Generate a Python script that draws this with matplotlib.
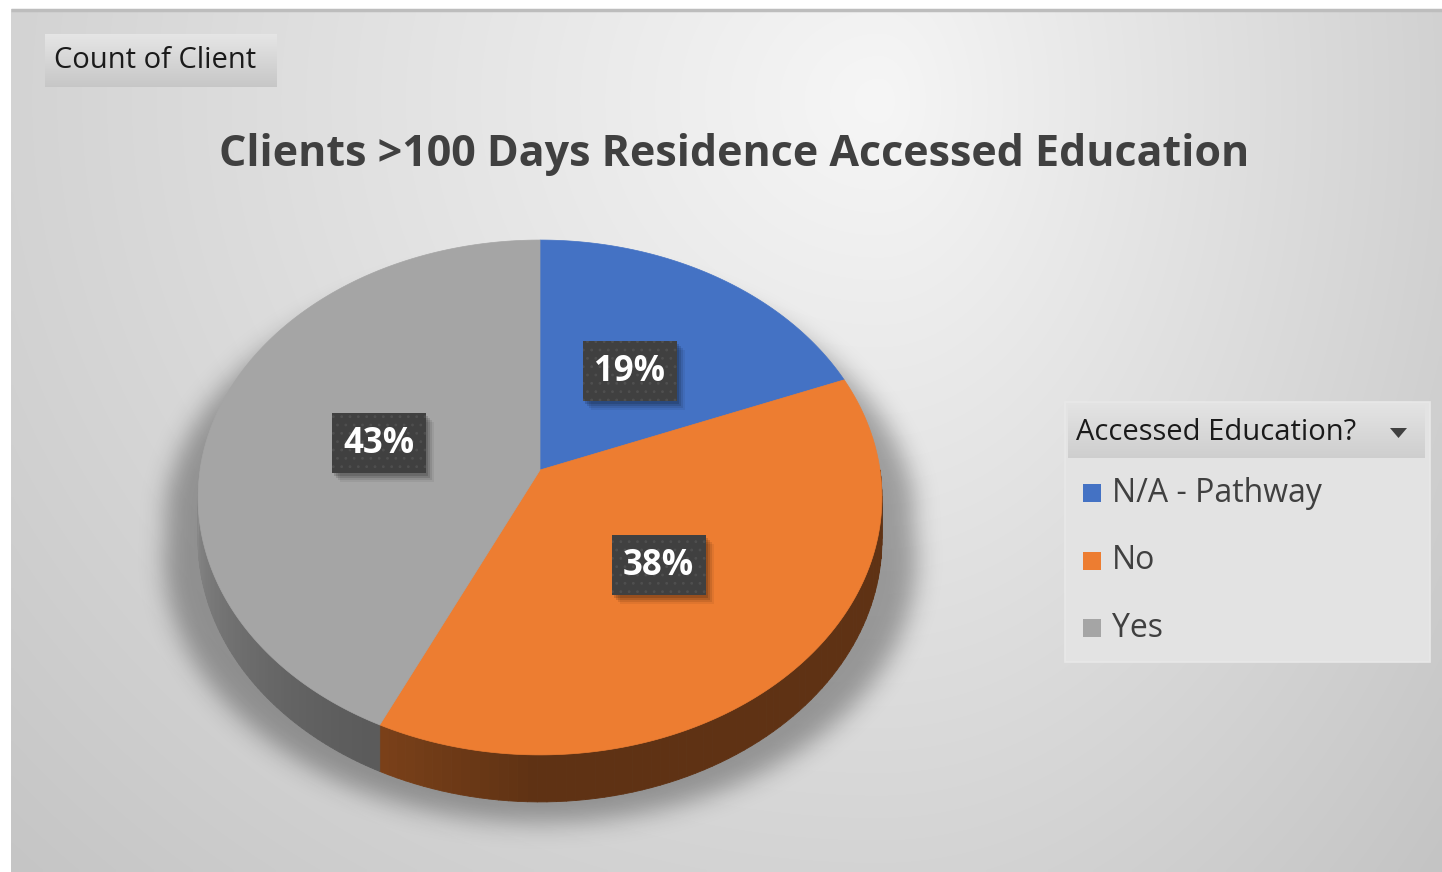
import numpy as np
import matplotlib
matplotlib.use('Agg')
import matplotlib.pyplot as plt
from matplotlib.patches import Polygon, Rectangle
from matplotlib.collections import PolyCollection
from matplotlib.path import Path

# data
categories = ['N/A - Pathway', 'No', 'Yes']
shares = [19, 38, 43]
colors = ['#4472C4', '#ED7D31', '#A5A5A5']
title = 'Clients >100 Days Residence Accessed Education'
field_button = 'Count of Client'
legend_title = 'Accessed Education?'

FONT = 'Open Sans'
W, H = 1442, 872

# pie geometry (pixels)
CX, CY = 540, 470
RX, K, D = 340, 254.5, 9.37
THICK = 42


def project(theta, r=1.0, drop=0.0):
    x = r * np.cos(theta)
    z = r * np.sin(theta)
    s = D / (D + z)
    return CX + RX * x * s, CY - K * z * s + drop * s


def blur(a, sigma):
    n = int(3 * sigma)
    k = np.exp(-0.5 * (np.arange(-n, n + 1) / sigma) ** 2)
    k /= k.sum()
    a = np.apply_along_axis(lambda r: np.convolve(r, k, mode='same'), 0, a)
    a = np.apply_along_axis(lambda r: np.convolve(r, k, mode='same'), 1, a)
    return a


fig = plt.figure(figsize=(W / 100, H / 100), dpi=100)
fig.patch.set_facecolor('white')
ax = fig.add_axes([0, 0, 1, 1])
ax.axis('off')

# ---- background gradient
gx, gy = np.meshgrid(np.linspace(11, W, 300), np.linspace(10, H, 200))
sx = np.where(gx < 880, 1000, 620)
d = np.sqrt(((gx - 880) / sx) ** 2 + ((gy - 100) / 900) ** 2)
v = np.clip(246 - 40 * d, 0, 255) / 255
bg = np.dstack([v, v, v])
ax.imshow(bg, extent=(11, W, H, 10), origin='upper', interpolation='bilinear', aspect='auto', zorder=0)
ax.plot([11, W], [10.5, 10.5], color='#bdbdbd', lw=2.5, zorder=1, solid_capstyle='butt')

# ---- soft shadow under the pie
t_back = np.linspace(0, np.pi, 120)
t_front = np.linspace(np.pi, 2 * np.pi, 120)
bx1, by1 = project(t_back, 1.0, 30)
bx2, by2 = project(t_front, 1.0, THICK + 18)
sx_ = CX + (np.r_[bx1, bx2] - CX) * 1.1
shadow_path = Path(np.column_stack([sx_, np.r_[by1, by2]]))
sxg, syg = np.meshgrid(np.arange(100, 1000), np.arange(250, H))
mask = shadow_path.contains_points(np.column_stack([sxg.ravel(), syg.ravel()])).reshape(sxg.shape)
alpha = blur(mask.astype(float), 12) * 0.32
sh = np.zeros(mask.shape + (4,))
sh[..., 3] = alpha
ax.imshow(sh, extent=(100, 1000, H, 250), origin='upper', aspect='auto', zorder=2)

# ---- slices
total = float(sum(shares))
bounds = [90.0]
for v_ in shares:
    bounds.append(bounds[-1] - 360.0 * v_ / total)

wall_shade = {0: (0.55, 0.45), 1: (0.52, 0.40), 2: (0.55, 0.86)}

for i, col in enumerate(colors):
    a0, a1 = bounds[i], bounds[i + 1]
    # side wall (front half only)
    lo, hi = max(a1, -180.0), min(a0, 0.0)
    if lo < hi:
        th = np.radians(np.linspace(hi, lo, 80))
        rgb = np.array(matplotlib.colors.to_rgb(col))
        f0, f1 = wall_shade[i]
        quads, fcs = [], []
        for j in range(len(th) - 1):
            xa, ya = project(th[j])
            xb, yb = project(th[j + 1])
            xc, yc = project(th[j + 1], drop=THICK)
            xd, yd = project(th[j], drop=THICK)
            quads.append([(xa, ya), (xb, yb), (xc, yc), (xd, yd)])
            frac = np.clip((np.degrees(th[j]) - hi) / (lo - hi), 0, 1)
            if i == 1:
                f = f1 + (f0 - f1) * np.clip((frac - 0.78) / 0.22, 0, 1)
            else:
                f = f0 + (f1 - f0) * frac ** 1.3
            fcs.append(np.clip(rgb * f, 0, 1))
        ax.add_collection(PolyCollection(quads, facecolors=fcs, edgecolors=fcs, linewidths=0.6, zorder=3))
    # top face
    th = np.radians(np.linspace(a0, a1, 200))
    px, py = project(th)
    pts = np.column_stack([np.r_[CX, px], np.r_[CY, py]])
    ax.add_patch(Polygon(pts, closed=True, facecolor=col, edgecolor=col, lw=0.5, zorder=4))

# ---- data labels
plt.rcParams['hatch.color'] = '#4f4f4f'
plt.rcParams['hatch.linewidth'] = 0.8
for i, v_ in enumerate(shares):
    mid = np.radians((bounds[i] + bounds[i + 1]) / 2)
    lx, ly = project(mid, 0.49)
    bw, bh = 94, 60
    for off, a in [(8, 0.06), (6, 0.09), (4, 0.12), (2, 0.14)]:
        ax.add_patch(Rectangle((lx - bw / 2 + off, ly - bh / 2 + off + 1), bw, bh, facecolor='black',
                               edgecolor='none', alpha=a, zorder=5))
    ax.add_patch(Rectangle((lx - bw / 2, ly - bh / 2), bw, bh, facecolor='#404040',
                           edgecolor='#4f4f4f', lw=0, hatch='..', zorder=6))
    ax.text(lx, ly + 1, f'{v_}%', ha='center', va='center', color='white', fontsize=25,
            fontweight='bold', family=FONT, zorder=7)

# ---- title
ax.text(734, 155, title, ha='center', va='center', fontsize=31, fontweight='bold',
        color='#404040', family=FONT, zorder=5)

# ---- field button
grad = np.linspace(0.90, 0.78, 50).reshape(-1, 1)
ax.imshow(np.dstack([grad, grad, grad]), extent=(45, 277, 87, 34), origin='upper', aspect='auto', zorder=5)
ax.text(54, 61, field_button, ha='left', va='center', fontsize=21, color='#1a1a1a', family=FONT, zorder=6)

# ---- legend
ax.add_patch(Rectangle((1065, 402), 365, 260, facecolor='#e3e3e3', edgecolor='#e8e8e8', lw=1.2, zorder=5))
grad = np.linspace(0.89, 0.81, 50).reshape(-1, 1)
ax.imshow(np.dstack([grad, grad, grad]), extent=(1068, 1425, 458, 405), origin='upper', aspect='auto', zorder=6)
ax.text(1076, 432, legend_title, ha='left', va='center', fontsize=21, color='#1a1a1a', family=FONT, zorder=7)
ax.add_patch(Polygon([(1390, 428), (1407, 428), (1398.5, 438)], closed=True, facecolor='#404040',
                     edgecolor='none', zorder=7))
for i, (cat, col) in enumerate(zip(categories, colors)):
    yy = 493 + i * 67.5
    ax.add_patch(Rectangle((1083, yy - 9), 18, 18, facecolor=col, edgecolor='none', zorder=7))
    ax.text(1112, yy, cat, ha='left', va='center', fontsize=23, color='#404040', family=FONT, zorder=7)

ax.set_xlim(0, W)
ax.set_ylim(H, 0)
fig.savefig('out.png', dpi=100)
